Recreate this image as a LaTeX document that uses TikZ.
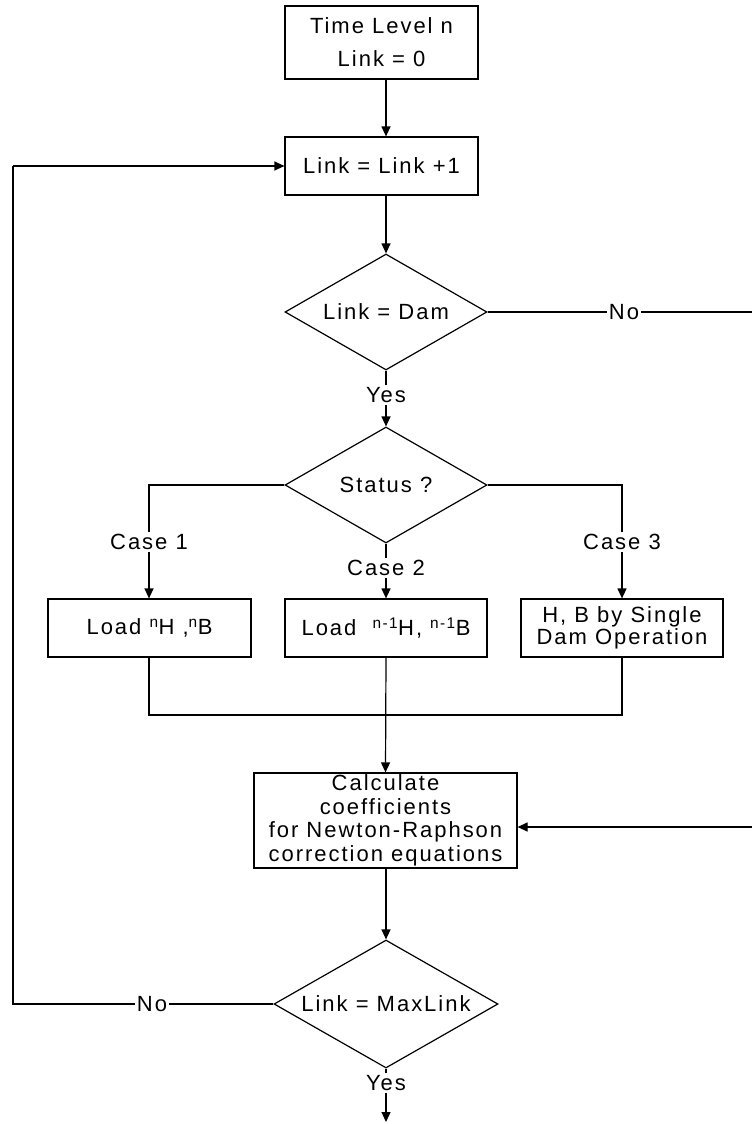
\documentclass[tikz,border=0pt]{standalone}
\usepackage{fontspec}
\setmainfont{Liberation Sans}[LetterSpace=9]
\usetikzlibrary{shapes.geometric,arrows.meta}
\begin{document}
\begin{tikzpicture}[x=1pt,y=-1pt,
  every node/.style={font=\fontsize{22}{23.5}\selectfont},
  box/.style={draw,line width=1.2pt,rectangle,inner sep=0pt,align=center},
  dia/.style={draw,line width=1.2pt,diamond,aspect=1.75,inner sep=0pt,align=center},
  conn/.style={line width=1.2pt},
  arr/.style={line width=1.2pt,-{Triangle[width=9pt,length=10pt]}},
  lbl/.style={inner sep=2pt}]
\useasboundingbox (0,0) rectangle (752,1124);
% main nodes
\node[box,minimum width=193,minimum height=73,font=\fontsize{22}{33}\selectfont] (top) at (381.5,42.5) {Time Level n\\Link = 0};
\node[box,minimum width=193,minimum height=58] (link) at (381.5,166) {Link = Link +1};
\node[dia,minimum width=202,minimum height=116] (dam) at (386,312) {Link = Dam};
\node[dia,minimum width=202,minimum height=116] (status) at (386,485) {Status ?};
\node[box,minimum width=203,minimum height=58] (b1) at (149.5,628) {Load \textsuperscript{n}H ,\textsuperscript{n}B};
\node[box,minimum width=202,minimum height=58] (b2) at (386,628) {Load\ \ \textsuperscript{n-1}H, \textsuperscript{n-1}B};
\node[box,minimum width=202,minimum height=58,font=\fontsize{22}{22}\selectfont] (b3) at (622,628) {H, B by Single\\Dam Operation};
\node[box,minimum width=263,minimum height=95] (calc) at (385.5,820.5) {Calculate\\coefficients\\for Newton-Raphson\\correction equations};
\node[dia,minimum width=224,minimum height=128] (maxl) at (386,1004) {Link = MaxLink};
% labels
\node[lbl] (yes1) at (386,395) {Yes};
\node[lbl] (case1) at (149,542) {Case 1};
\node[lbl] (case2) at (386,568) {Case 2};
\node[lbl] (case3) at (622,542) {Case 3};
\node[lbl] (no1) at (624,312) {No};
\node[lbl] (no2) at (152,1004) {No};
\node[lbl] (yes2) at (386,1083) {Yes};
% helper coordinates
\coordinate (rout) at (752,312);
\coordinate (rin) at (752,827);
\coordinate (lcorner) at (13,1004);
\coordinate (ltop) at (13,166);
\coordinate (c1) at (149,485);
\coordinate (c3) at (622,485);
\coordinate (j1) at (149,715);
\coordinate (j3) at (622,715);
\coordinate (endp) at (386,1122);
% connectors
\draw[arr] (top.south -| dam.north) -- (link.north -| dam.north);
\draw[arr] (link.south -| dam.north) -- (dam.north);
\draw[conn] (dam.south) -- (yes1.north);
\draw[arr] (yes1.south) -- (status.north);
\draw[conn] (status.west) -- (c1) -- (case1.north);
\draw[arr] (case1.south) -- (case1.south |- b1.north);
\draw[conn] (status.south) -- (case2.north);
\draw[arr] (case2.south) -- (b2.north);
\draw[conn] (status.east) -- (c3) -- (case3.north);
\draw[arr] (case3.south) -- (case3.south |- b3.north);
\draw[conn] (b1.south -| c1) -- (j1) -- (j3) -- (b3.south -| c3);
\draw[arr] (b2.south) -- (calc.north);
\draw[conn] (dam.east) -- (no1.west);
\draw[conn] (no1.east) -- (rout);
\draw[arr] (rin) -- (rin -| calc.east);
\draw[arr] (calc.south -| maxl.north) -- (maxl.north);
\draw[conn] (maxl.west) -- (no2.east);
\draw[conn] (no2.west) -- (lcorner) -- (ltop);
\draw[arr] (ltop) -- (link.west);
\draw[conn] (maxl.south) -- (yes2.north);
\draw[arr] (yes2.south) -- (endp);
\end{tikzpicture}
\end{document}
